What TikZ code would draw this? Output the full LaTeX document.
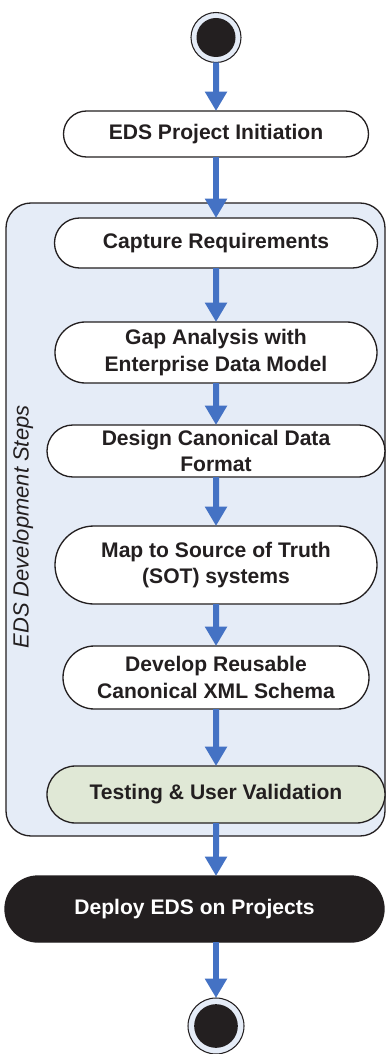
\documentclass[tikz,border=0pt]{standalone}
\usepackage{fontspec}
\setsansfont{Liberation Sans}
\usetikzlibrary{arrows.meta,positioning,shapes.misc,backgrounds}
\definecolor{edsBlue}{RGB}{68,114,196}
\definecolor{edsPaleBlue}{RGB}{229,236,247}
\definecolor{edsPaleGreen}{RGB}{224,232,214}
\definecolor{edsInk}{RGB}{35,31,32}

\begin{document}
\begin{tikzpicture}[
  activity/.style={
    rounded rectangle,
    draw=edsInk,
    line width=0.75pt,
    fill=white,
    text=edsInk,
    align=center,
    inner sep=0pt,
    outer sep=0pt,
    font=\sffamily\bfseries\fontsize{12}{15.2}\selectfont
  },
  terminal/.style={
    circle,
    draw=edsInk,
    line width=0.6pt,
    fill=edsPaleBlue,
    inner sep=0pt,
    outer sep=0pt,
    minimum size=#1,
    path picture={\fill[edsInk] (path picture bounding box.center) circle (0.39*#1);}
  },
  arrow/.style={-{Triangle[length=11pt,width=12pt]},line width=3.4pt,edsBlue}
]
  \useasboundingbox (0,0) rectangle (7.72,-21.08);
  \node[terminal=1cm] (start) at (4.32,-0.75) {};
  \node[activity,minimum width=6.1cm,minimum height=0.92cm,below=0.97cm of start] (initiation) {EDS Project Initiation};
  \node[activity,minimum width=6.46cm,minimum height=1.0cm,below=1.22cm of initiation] (requirements) {Capture Requirements};
  \node[activity,minimum width=6.44cm,minimum height=1.22cm,below=1.08cm of requirements] (gap) {Gap Analysis with\\Enterprise Data Model};
  \node[activity,minimum width=6.76cm,minimum height=1.04cm,below=0.84cm of gap] (format) {Design Canonical Data\\Format};
  \node[activity,minimum width=6.44cm,minimum height=1.56cm,below=0.98cm of format] (mapping) {Map to Source of Truth\\(SOT) systems};
  \node[activity,minimum width=6.12cm,minimum height=1.26cm,below=0.84cm of mapping] (schema) {Develop Reusable\\Canonical XML Schema};
  \node[activity,fill=edsPaleGreen,minimum width=6.76cm,minimum height=1.14cm,below=1.14cm of schema] (testing) {Testing \& User Validation};
  \node[activity,fill=edsInk,text=white,minimum width=7.58cm,minimum height=1.32cm,below=1.06cm of testing,xshift=-0.43cm] (deploy) {Deploy EDS on Projects};
  \node[terminal=1.12cm,below=1.12cm of deploy,xshift=0.43cm] (finish) {};
  \begin{scope}[on background layer]
    \draw[edsInk,line width=0.75pt,fill=edsPaleBlue,rounded corners=0.5cm] (0.12,-4.06) rectangle (7.70,-16.72);
  \end{scope}
  \node[rotate=90,text=edsInk,font=\sffamily\itshape\fontsize{12.5}{15}\selectfont] (stepslabel) at (0.46,-10.54) {EDS Development Steps};
  \draw[arrow] (start) -- (initiation);
  \draw[arrow] (initiation) -- (requirements);
  \draw[arrow] (requirements) -- (gap);
  \draw[arrow] (gap) -- (format);
  \draw[arrow] (format) -- (mapping);
  \draw[arrow] (mapping) -- (schema);
  \draw[arrow] (schema) -- (testing);
  \draw[arrow] (testing) -- (testing |- deploy.north);
  \draw[arrow] (finish |- deploy.south) -- (finish);
\end{tikzpicture}
\end{document}
